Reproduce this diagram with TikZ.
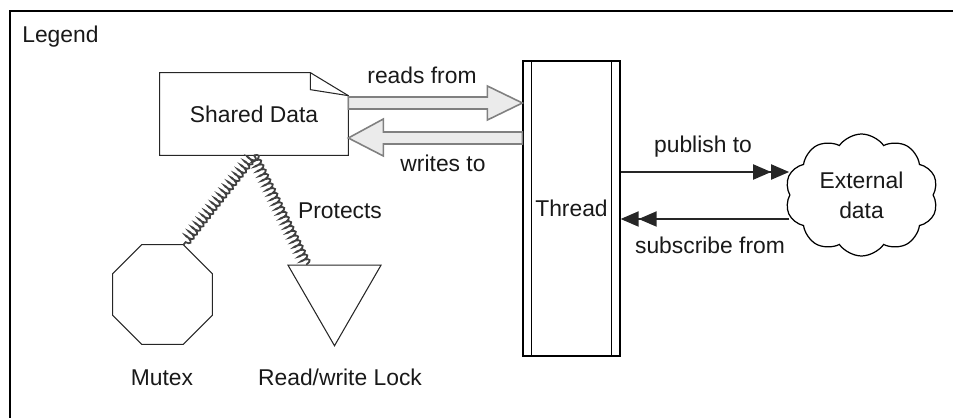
\documentclass[tikz,border=0pt]{standalone}
\usepackage{fontspec}
\setmainfont{Liberation Sans}
\usetikzlibrary{arrows.meta,positioning,shapes.geometric,shapes.symbols,decorations.pathmorphing}

\begin{document}
\begin{tikzpicture}[x=0.02cm, y=-0.02cm,
  lbl/.style={font=\fontsize{13}{17}\selectfont, text=black!90, inner sep=0pt},
  outline/.style={draw=black!85, line width=0.6pt},
  flow/.style={draw=black!50, line width=0.9pt, fill=black!8, line join=miter},
  msg/.style={-{Triangle[length=3.6mm,width=3mm]Triangle[length=3.6mm,width=3mm]}, line width=1.1pt, draw=black!85},
  rope/.style={draw=black!75, line width=1pt, decorate, decoration={coil, amplitude=2.4pt, segment length=3pt, aspect=0.3}}]
\useasboundingbox (0,0) rectangle (953,418);
\draw[line width=1.4pt] (10,418) -- (10,11) -- (953,11);
\node[lbl, anchor=west] (legend) at (22,37) {Legend};

\node[lbl, minimum width=3.76cm, minimum height=1.64cm] (shared) at (254,114) {Shared Data};
\draw[outline] (shared.south west) -- (shared.north west) -- ([shift={(-38,0)}]shared.north east)
  -- ([shift={(0,23)}]shared.north east) -- (shared.south east) -- cycle;
\draw[outline] ([shift={(-38,0)}]shared.north east) -- ([shift={(-38,17)}]shared.north east)
  -- ([shift={(0,23)}]shared.north east);

\node[lbl, draw, line width=0.7pt, minimum width=1.94cm, minimum height=5.9cm] (thread) at (571.5,208.5) {Thread};
\draw[line width=0.7pt] ([shift={(9,0)}]thread.north west) -- ([shift={(9,0)}]thread.south west);
\draw[line width=0.7pt] ([shift={(-9,0)}]thread.north east) -- ([shift={(-9,0)}]thread.south east);

\node[lbl, cloud, cloud puffs=10, cloud puff arc=110, aspect=1.3, draw, line width=0.7pt,
  minimum width=3.06cm, minimum height=2.44cm, align=center] (ext) at (861.5,195) {External\\data};

\node[regular polygon, regular polygon sides=8, minimum size=2.16cm, inner sep=0pt, outline] (mutex) at (162.5,294.5) {};
\node[regular polygon, regular polygon sides=3, shape border rotate=180, minimum size=2.15cm, inner sep=0pt, outline] (rwlock) at (334.5,292) {};

\coordinate (rs) at ([shift={(0,-11)}]shared.east);
\coordinate (rt) at (thread.west |- rs);
\coordinate (ws) at ([shift={(0,24)}]shared.east);
\coordinate (wt) at (thread.west |- ws);
\draw[flow] ([shift={(0,-6)}]rs) -- ([shift={(-35,-6)}]rt) -- ([shift={(-35,-17)}]rt) -- (rt)
  -- ([shift={(-35,17)}]rt) -- ([shift={(-35,6)}]rt) -- ([shift={(0,6)}]rs) -- cycle;
\draw[flow] ([shift={(0,-6)}]wt) -- ([shift={(35,-6)}]ws) -- ([shift={(35,-19)}]ws) -- (ws)
  -- ([shift={(35,18)}]ws) -- ([shift={(35,6)}]ws) -- ([shift={(0,6)}]wt) -- cycle;
\draw[msg] (thread.east |- 0,172) -- (ext.west |- 0,172);
\draw[msg] (ext.west |- 0,219) -- (thread.east |- 0,219);
\draw[rope] (shared.south) -- (mutex.67.5);
\draw[rope] (shared.south) -- (rwlock.135);

\node[lbl] (readlbl) at (422,75) {reads from};
\node[lbl] (writelbl) at (443,163) {writes to};
\node[lbl] (publbl) at (703,147) {publish to};
\node[lbl] (sublbl) at (710,245) {subscribe from};
\node[lbl] (protlbl) at (340,211) {Protects};
\node[lbl] (mutexlbl) at (162,378) {Mutex};
\node[lbl] (rwlbl) at (340,377) {Read/write Lock};
\end{tikzpicture}
\end{document}
